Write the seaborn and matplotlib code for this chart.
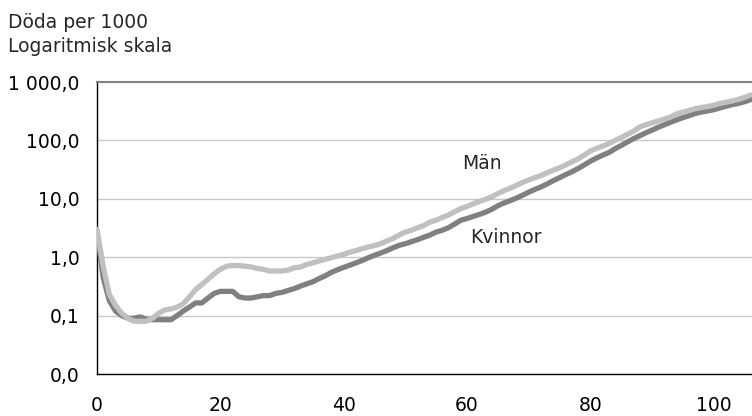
import numpy as np
import pandas as pd
import matplotlib
matplotlib.use("Agg")
import matplotlib.pyplot as plt
import seaborn as sns
from matplotlib.ticker import FixedLocator, FixedFormatter, NullLocator

ages = list(range(0, 107))

man = [3.0, 0.7, 0.23, 0.15, 0.11, 0.09, 0.08, 0.08, 0.08, 0.09,
       0.11, 0.125, 0.13, 0.14, 0.16, 0.21, 0.28, 0.34, 0.42, 0.52,
       0.62, 0.70, 0.72, 0.72, 0.70, 0.68, 0.64, 0.62, 0.58, 0.58,
       0.58, 0.60, 0.66, 0.68, 0.75, 0.80, 0.86, 0.92, 0.98, 1.05,
       1.12, 1.22, 1.30, 1.40, 1.50, 1.58, 1.70, 1.90, 2.10, 2.40,
       2.70, 2.90, 3.20, 3.50, 4.00, 4.30, 4.80, 5.30, 6.00, 6.80,
       7.40, 8.20, 9.00, 9.80, 10.8, 12.3, 13.8, 15.2, 17.0, 19.0,
       21.0, 23.0, 25.0, 28.0, 31.0, 34.0, 38.0, 43.0, 48.0, 56.0,
       66.0, 73.0, 80.0, 88.0, 100, 112, 127, 143, 170, 185,
       200, 215, 232, 252, 285, 305, 325, 350, 365, 380,
       400, 430, 450, 475, 505, 545, 600]

kvinnor = [2.8, 0.45, 0.18, 0.12, 0.10, 0.09, 0.09, 0.095, 0.087, 0.085,
           0.085, 0.085, 0.085, 0.10, 0.12, 0.14, 0.165, 0.165, 0.20, 0.24,
           0.26, 0.26, 0.26, 0.21, 0.20, 0.20, 0.21, 0.22, 0.22, 0.24,
           0.25, 0.27, 0.29, 0.32, 0.35, 0.38, 0.43, 0.48, 0.55, 0.61,
           0.67, 0.73, 0.80, 0.88, 0.98, 1.08, 1.18, 1.30, 1.45, 1.60,
           1.70, 1.85, 2.00, 2.20, 2.40, 2.70, 2.90, 3.20, 3.70, 4.30,
           4.60, 5.00, 5.40, 5.90, 6.60, 7.60, 8.50, 9.30, 10.3, 11.5,
           13.0, 14.5, 16.0, 18.0, 20.5, 23.0, 26.0, 29.0, 33.0, 38.0,
           44.0, 50.0, 56.0, 62.0, 72.0, 82.0, 94.0, 107, 120, 135,
           150, 168, 185, 205, 225, 245, 265, 290, 305, 320,
           335, 360, 385, 410, 430, 460, 500]

ytick_vals = [0.01, 0.1, 1, 10, 100, 1000]
ytick_labels = ["0,0", "0,1", "1,0", "10,0", "100,0", "1 000,0"]
xtick_vals = [0, 20, 40, 60, 80, 100]

df = pd.DataFrame({
    "Ålder": ages * 2,
    "Döda": kvinnor + man,
    "Kön": ["Kvinnor"] * len(ages) + ["Män"] * len(ages),
})

sns.set_style("white")
plt.rcParams["font.family"] = ["DejaVu Sans"]

FS = 13.5

fig = plt.figure(figsize=(7.52, 4.16), dpi=100)
ax = fig.add_axes([97 / 752, 1 - 374 / 416, (752 - 97) / 752, (374 - 82) / 416])

sns.lineplot(data=df, x="Ålder", y="Döda", hue="Kön",
             palette={"Kvinnor": "#808080", "Män": "#c0c0c0"},
             hue_order=["Kvinnor", "Män"], linewidth=3.8, legend=False, ax=ax,
             zorder=3)

ax.set_yscale("log")
ax.set_ylim(0.01, 1000)
ax.set_xlim(0, 106.2)
ax.yaxis.set_major_locator(FixedLocator(ytick_vals))
ax.yaxis.set_major_formatter(FixedFormatter(ytick_labels))
ax.yaxis.set_minor_locator(NullLocator())
ax.set_xticks(xtick_vals)
ax.set_xticklabels([str(v) for v in xtick_vals])
ax.set_xlabel("")
ax.set_ylabel("")

for v in ytick_vals[1:-1]:
    ax.axhline(v, color="#c8c8c8", linewidth=1.0, zorder=1)

for side in ["left", "bottom"]:
    ax.spines[side].set_color("black")
    ax.spines[side].set_linewidth(1.0)
ax.spines["top"].set_color("#808080")
ax.spines["top"].set_linewidth(1.5)
ax.spines["right"].set_visible(False)

ax.tick_params(axis="both", which="major", direction="out", length=5,
               width=1.0, color="black", labelsize=FS, labelcolor="black")
ax.tick_params(axis="y", pad=7.5)
ax.tick_params(axis="x", pad=10.5)

ax.text(62.4, 41, "Män", fontsize=FS, ha="center", va="center")
ax.text(66.3, 2.2, "Kvinnor", fontsize=FS, ha="center", va="center")

fig.text(8 / 752, 1 - 28 / 416, "Döda per 1000",
         fontsize=FS, ha="left", va="baseline")
fig.text(8 / 752, 1 - 52 / 416, "Logaritmisk skala",
         fontsize=FS, ha="left", va="baseline")

fig.savefig("out.png", dpi=100)
